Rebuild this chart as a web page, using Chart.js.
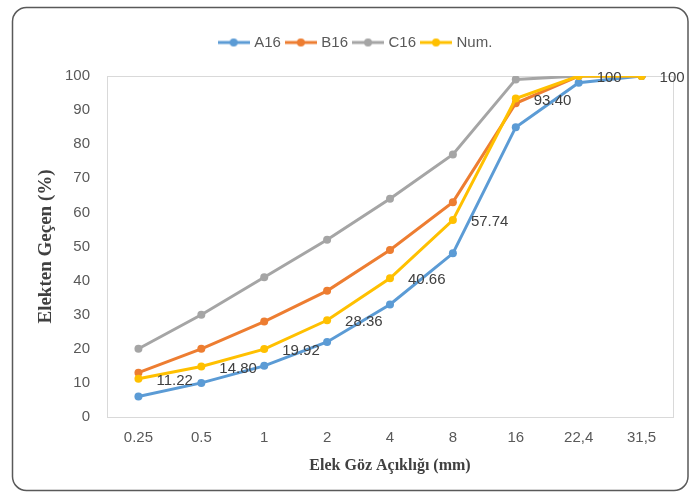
<!DOCTYPE html>
<html>
<head>
<meta charset="utf-8">
<script src="https://cdn.jsdelivr.net/npm/chart.js"></script>
<style>
  html, body { margin: 0; padding: 0; background: #fff; }
  #wrap { width: 691px; height: 493px; }
</style>
</head>
<body>
<div id="wrap"><canvas id="gradationChart"></canvas></div>
<script>
// Sieve sizes (x categories) and passing percentages per mix
const sieveSizes = ['0.25', '0.5', '1', '2', '4', '8', '16', '22,4', '31,5'];
const a16 = [6, 10, 15, 22, 33, 48, 85, 98, 100];
const b16 = [13, 20, 28, 37, 49, 63, 92, 100, 100];
const c16 = [20, 30, 41, 52, 64, 77, 99, 100, 100];
const numMix = [11.22, 14.80, 19.92, 28.36, 40.66, 57.74, 93.40, 100, 100];
const seriesNames = ['A16', 'B16', 'C16', 'Num.'];
const seriesColors = ['#5b9bd5', '#ed7d31', '#a5a5a5', '#ffc000'];

const tickFont = { family: 'Liberation Sans, Arial, sans-serif', size: 15 };

// legend marker: short line with a dot, like Excel
function makeLegendMark(color) {
  const c = document.createElement('canvas');
  c.width = 32;
  c.height = 10;
  const g = c.getContext('2d');
  g.strokeStyle = color;
  g.lineWidth = 3;
  g.beginPath();
  g.moveTo(0, 5);
  g.lineTo(32, 5);
  g.stroke();
  g.fillStyle = color;
  g.beginPath();
  g.arc(16, 5, 4, 0, Math.PI * 2);
  g.fill();
  return c;
}
const legendMarks = seriesColors.map(makeLegendMark);

// outer rounded frame + plot area box + legend tweaks
const framePlugin = {
  id: 'frame',
  beforeLayout(chart) {
    const lg = chart.legend;
    if (lg && !lg._patched) {
      const origFit = lg.fit;
      lg.fit = function() {
        origFit.call(this);
        this.height += 16;
      };
      lg._patched = true;
    }
  },
  afterLayout(chart) {
    if (chart.legend) {
      chart.legend.left += 20;
      chart.legend.right += 20;
    }
  },
  beforeDraw(chart) {
    const ctx = chart.ctx;
    ctx.save();
    ctx.strokeStyle = '#595959';
    ctx.lineWidth = 1.5;
    ctx.beginPath();
    ctx.roundRect(12.5, 7.5, 675.5, 483, 14);
    ctx.stroke();
    ctx.restore();
  },
  beforeDatasetsDraw(chart) {
    const a = chart.chartArea;
    const ctx = chart.ctx;
    ctx.save();
    ctx.strokeStyle = '#d9d9d9';
    ctx.lineWidth = 1;
    ctx.strokeRect(Math.round(a.left) + 0.5, Math.round(a.top) + 0.5, a.right - a.left, a.bottom - a.top);
    ctx.restore();
  }
};

// value labels to the right of the Num. points
const numLabelsPlugin = {
  id: 'numLabels',
  afterDatasetsDraw(chart) {
    const meta = chart.getDatasetMeta(3);
    const ctx = chart.ctx;
    ctx.save();
    ctx.font = '15px Liberation Sans, Arial, sans-serif';
    ctx.fillStyle = '#404040';
    ctx.textAlign = 'left';
    ctx.textBaseline = 'middle';
    meta.data.forEach((pt, i) => {
      const v = numMix[i];
      const txt = Number.isInteger(v) ? String(v) : v.toFixed(2);
      ctx.fillText(txt, pt.x + 18, pt.y + 2);
    });
    ctx.restore();
  }
};

const allSeries = [a16, b16, c16, numMix];
const datasets = allSeries.map((vals, i) => ({
  label: seriesNames[i],
  data: vals,
  borderColor: seriesColors[i],
  backgroundColor: seriesColors[i],
  borderWidth: 3,
  pointRadius: 4,
  pointBorderWidth: 0,
  pointBackgroundColor: seriesColors[i],
  tension: 0,
  order: i === 3 ? 0 : 4 - i
}));

new Chart(document.getElementById('gradationChart'), {
  type: 'line',
  data: { labels: sieveSizes, datasets: datasets },
  options: {
    responsive: true,
    maintainAspectRatio: false,
    animation: false,
    layout: { padding: { top: 28, left: 0, right: 18, bottom: 0 } },
    plugins: {
      tooltip: { enabled: false },
      legend: {
        position: 'top',
        labels: {
          usePointStyle: true,
          pointStyleWidth: 26,
          padding: 7,
          color: '#595959',
          font: tickFont,
          generateLabels(chart) {
            return chart.data.datasets.map((ds, i) => ({
              text: ds.label,
              pointStyle: legendMarks[i],
              fillStyle: ds.borderColor,
              strokeStyle: ds.borderColor,
              lineWidth: 0,
              fontColor: '#595959',
              hidden: !chart.isDatasetVisible(i),
              datasetIndex: i
            }));
          }
        }
      }
    },
    scales: {
      x: {
        offset: true,
        grid: { display: false, drawTicks: false },
        border: { display: false },
        ticks: { color: '#595959', font: tickFont, padding: 12, maxRotation: 0 },
        title: {
          display: true,
          text: 'Elek Göz Açıklığı (mm)',
          color: '#404040',
          font: { family: 'Liberation Serif, Times New Roman, serif', size: 16, weight: 'bold' },
          padding: { top: 0, bottom: 18 }
        },
        afterFit(scale) { scale.height = 76; }
      },
      y: {
        min: 0,
        max: 100,
        grid: { display: false, drawTicks: false },
        border: { display: false },
        ticks: { stepSize: 10, color: '#595959', font: tickFont, padding: 17 },
        title: {
          display: true,
          text: 'Elekten Geçen (%)',
          color: '#404040',
          font: { family: 'Liberation Serif, Times New Roman, serif', size: 19, weight: 'bold' },
          padding: { top: 35, bottom: 0 }
        },
        afterFit(scale) { scale.width = 107; }
      }
    }
  },
  plugins: [framePlugin, numLabelsPlugin]
});
</script>
</body>
</html>
